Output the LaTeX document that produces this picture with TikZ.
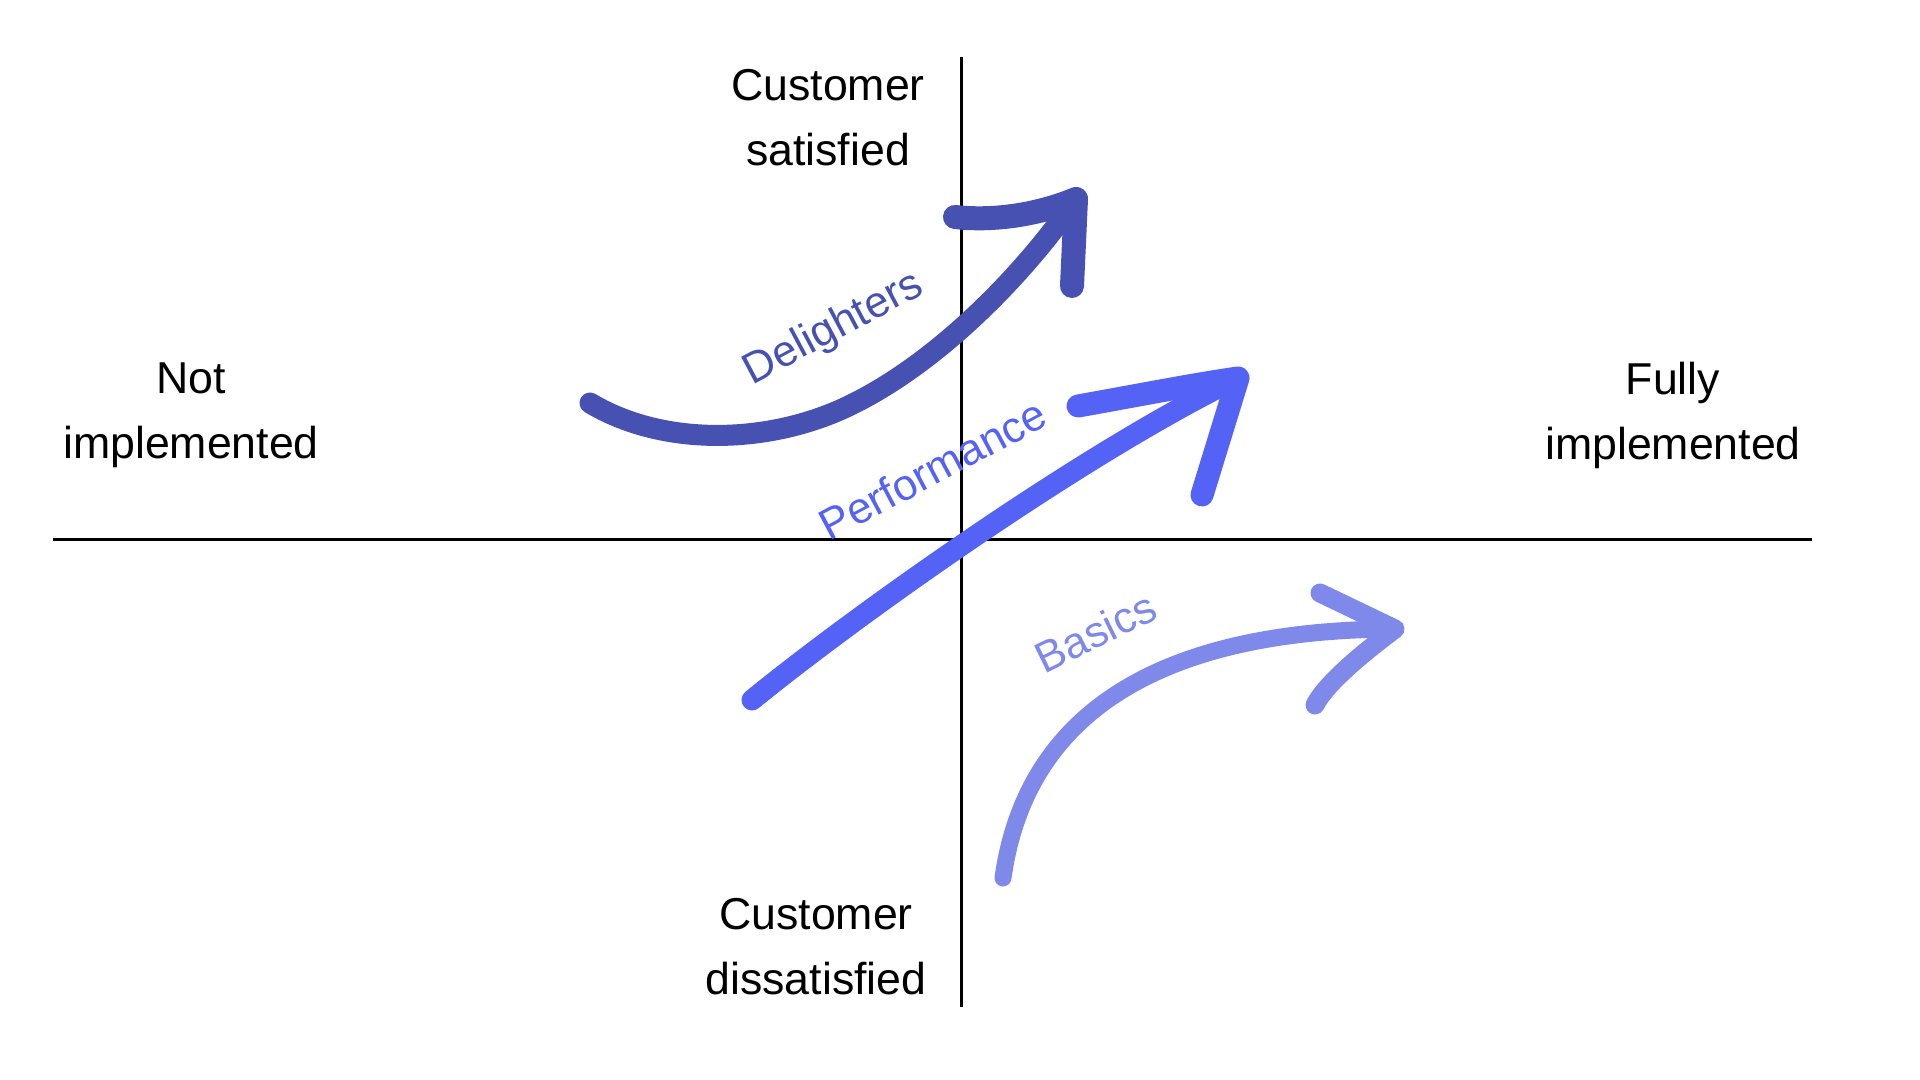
\documentclass[tikz,border=0pt]{standalone}
\usepackage{fontspec}
\setmainfont{Liberation Sans}
\usepackage{xcolor}
\usetikzlibrary{positioning}

\definecolor{delightblue}{RGB}{70,81,177}
\definecolor{perfblue}{RGB}{85,98,246}
\definecolor{basicblue}{RGB}{126,137,233}

\tikzset{
  axis/.style={line width=0.85pt},
  brush/.style={line width=0.21cm,line cap=round,line join=round},
  axislabel/.style={align=center,font=\fontsize{12.7}{18.5}\selectfont},
  kanolabel/.style={anchor=base,font=\fontsize{12.4}{14}\selectfont}
}

\begin{document}
\begin{tikzpicture}[x=0.01cm,y=-0.01cm]
  \useasboundingbox (0,0) rectangle (1920,1080);
  % axes
  \coordinate (top) at (961,57);   \coordinate (bottom) at (961,1007);
  \coordinate (left) at (53,540);  \coordinate (right) at (1812,540);
  \draw[axis] (left)--(right);
  \draw[axis] (top)--(bottom);
  \node[axislabel] (sat)      at (828,118)  {Customer\\satisfied};
  \node[axislabel] (dissat)   at (816,947)  {Customer\\dissatisfied};
  \node[axislabel] (notimpl)  at (191,415)  {Not\\implemented};
  \node[axislabel] (fullimpl) at (1673,415) {Fully\\implemented};
  % delighters
  \coordinate (dstart) at (590,403); \coordinate (dtip) at (1076,199);
  \draw[brush,delightblue] (dstart) .. controls (660,445) and (760,445) .. (840,410)
    .. controls (930,370) and (1020,280) .. (dtip);
  \draw[brush,delightblue,line width=0.24cm] (955,217) .. controls (1000,222) and (1045,212) .. (dtip) -- (1072,286);
  \node[kanolabel,delightblue,rotate=28] (dlabel) at (839,339) {Delighters};
  % performance
  \coordinate (pstart) at (752,700); \coordinate (ptip) at (1238,378);
  \draw[brush,perfblue] (pstart) .. controls (850,620) and (1080,455) .. (ptip);
  \draw[brush,perfblue,line width=0.23cm] (1078,406) .. controls (1140,395) and (1190,385) .. (ptip) -- (1202,495);
  \node[kanolabel,perfblue,rotate=28] (plabel) at (940,483) {Performance};
  % basics
  \coordinate (bstart) at (1003,878); \coordinate (btip) at (1395,629);
  \draw[brush,basicblue,line width=0.17cm] (bstart) .. controls (1025,720) and (1150,630) .. (btip);
  \draw[brush,basicblue,line width=0.19cm] (1320,593) -- (btip) .. controls (1360,655) and (1325,685) .. (1315,705);
  \node[kanolabel,basicblue,rotate=26] (blabel) at (1102,646) {Basics};
\end{tikzpicture}
\end{document}
